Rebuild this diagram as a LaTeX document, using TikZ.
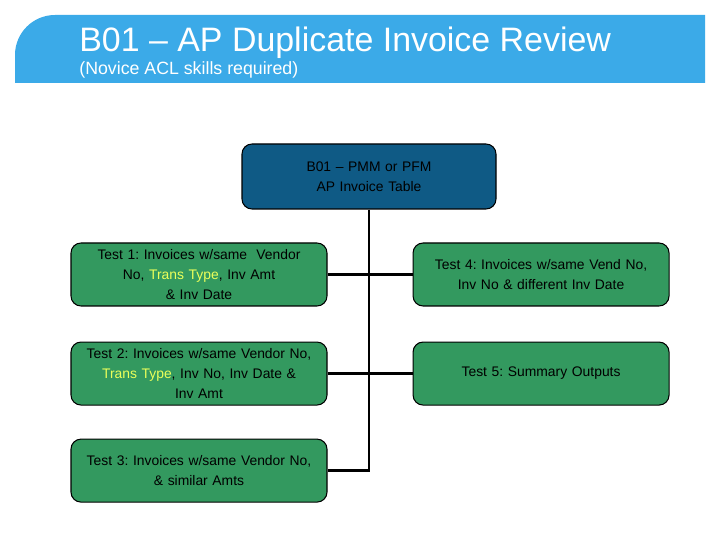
\documentclass[tikz,border=0pt]{standalone}
\usepackage{fontspec}
\setmainfont{Liberation Sans}
\usepackage{xcolor}
\usetikzlibrary{positioning}
\frenchspacing
\definecolor{bandblue}{RGB}{59,170,232}
\definecolor{tableblue}{RGB}{15,90,133}
\definecolor{testgreen}{RGB}{51,153,95}
\definecolor{hiyellow}{RGB}{235,255,90}
\newcommand{\transtype}{\textcolor{hiyellow}{Trans Type}}
\tikzset{
  testbox/.style={draw=black, line width=0.6pt, rounded corners=0.2cm, fill=testgreen,
    minimum width=5.12cm, minimum height=1.26cm, align=center, text width=4.9cm,
    font=\fontsize{7.9}{11.3}\selectfont, inner sep=0pt},
  link/.style={line width=1.4pt, black}
}
\begin{document}
\begin{tikzpicture}
    \useasboundingbox (0,0) rectangle (14.4,-10.8);
    % Kopfband
    \fill[bandblue] (0.3,-1.66) -- (0.3,-1.1) arc[start angle=180, end angle=90, radius=0.8] -- (14.1,-0.3) -- (14.1,-1.66) -- cycle;
    \node[anchor=base west, white, font=\fontsize{19.3}{22}\selectfont, inner sep=0pt] (title) at (1.58,-1.04) {B01 – AP Duplicate Invoice Review};
    \node[anchor=base west, white, font=\fontsize{10.1}{12}\selectfont, inner sep=0pt] (subtitle) at (1.58,-1.5) {(Novice ACL skills required)};

    % Quelltabelle
    \node[testbox, fill=tableblue, minimum width=5.08cm, minimum height=1.3cm] (table) at (7.38,-3.53) {B01 – PMM or PFM\\AP Invoice Table};

    % Tests
    \node[testbox] (test1) at (3.98,-5.49) {Test 1: Invoices w/same\ \ Vendor\\No, \transtype, Inv Amt\\\& Inv Date};
    \node[testbox, right=1.7cm of test1] (test4) {Test 4: Invoices w/same Vend No,\\Inv No \& different Inv Date};
    \node[testbox, below=0.7cm of test1] (test2) {Test 2: Invoices w/same Vendor No,\\\transtype, Inv No, Inv Date \&\\Inv Amt};
    \node[testbox, below=0.7cm of test4] (test5) {Test 5: Summary Outputs};
    \node[testbox, below=0.66cm of test2] (test3) {Test 3: Invoices w/same Vendor No,\\\& similar Amts};

    % Verbindungen
    \draw[link] (table.south) |- (test3.east);
    \draw[link] (test1.east) -- (test4.west);
    \draw[link] (test2.east) -- (test5.west);
\end{tikzpicture}
\end{document}
